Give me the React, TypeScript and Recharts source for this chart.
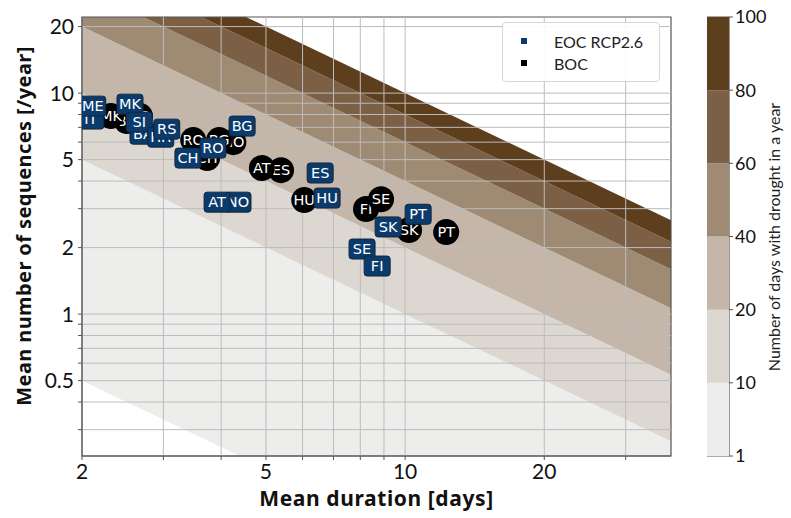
import {
  ComposedChart,
  Area,
  Scatter,
  XAxis,
  YAxis,
  ReferenceArea,
  ReferenceLine,
  BarChart,
  Bar,
} from "recharts";

// axis extents (log-log)
const X_DOMAIN = [2, 37.6];
const Y_DOMAIN = [0.228, 22.1];

// drought days per year: contour levels and their colours
const LEVELS = [1, 10, 20, 40, 60, 80, 100];
const BAND_COLORS = ["#ededec", "#ddd7d1", "#c4b6a8", "#9f8a74", "#7b6045", "#5d3e1d"];

// beginning of century (black circles)
const BOC_LABELS = ["BA", "MK", "HR", "NO", "BG", "RO", "CH", "ES", "AT", "HU", "FI", "SE", "SK", "PT"];
const BOC_DURATION = [2.5, 2.31, 2.67, 4.25, 3.96, 3.48, 3.73, 5.39, 4.9, 6.05, 8.23, 8.87, 10.2, 12.27];
const BOC_FREQ = [7.47, 7.87, 7.87, 6.0, 6.13, 6.13, 5.08, 4.48, 4.58, 3.28, 2.99, 3.31, 2.4, 2.35];

// end of century RCP2.6 (blue boxes)
const EOC_LABELS = ["IT", "ME", "MK", "BA", "SI", "HR", "RS", "BG", "CH", "RO", "NO", "AT", "ES", "HU", "SE", "FI", "SK", "PT"];
const EOC_DURATION = [2.09, 2.11, 2.54, 2.71, 2.66, 2.96, 3.05, 4.44, 3.39, 3.84, 4.35, 3.92, 6.55, 6.78, 8.07, 8.7, 9.19, 10.67];
const EOC_FREQ = [7.63, 8.73, 8.91, 6.52, 7.39, 6.32, 6.87, 7.09, 5.08, 5.64, 3.21, 3.21, 4.35, 3.35, 1.97, 1.65, 2.48, 2.83];

const X_TICKS = [2, 3, 4, 5, 6, 7, 8, 9, 10, 20, 30];
const X_LABELS = [2, 5, 10, 20];
const Y_TICKS = [0.3, 0.4, 0.5, 0.6, 0.7, 0.8, 0.9, 1, 2, 3, 4, 5, 6, 7, 8, 9, 10, 20];
const Y_LABELS = [0.5, 1, 2, 5, 10, 20];

const BLUE = "#0b3b6d";
const FONT = "Lato, 'DejaVu Sans', sans-serif";
const TITLE_FONT = "'Noto Sans', 'DejaVu Sans', sans-serif";
const MARK_FONT = "'DejaVu Sans', sans-serif";

// contour bands: duration * frequency = level, straight lines in log-log
const bandRows = X_DOMAIN.map((x) => {
  const row: Record<string, any> = { x };
  BAND_COLORS.forEach((_, i) => {
    row[`b${i}`] = [LEVELS[i] / x, LEVELS[i + 1] / x];
  });
  return row;
});

const bocData = BOC_LABELS.map((label, i) => ({ x: BOC_DURATION[i], y: BOC_FREQ[i], label }));
const eocData = EOC_LABELS.map((label, i) => ({ x: EOC_DURATION[i], y: EOC_FREQ[i], label }));

const colorbarRow: Record<string, any> = { name: "cb" };
BAND_COLORS.forEach((_, i) => {
  colorbarRow[`c${i}`] = 1;
});

function fmtTick(list: number[]) {
  return (v: number) => (list.includes(v) ? String(v) : "");
}

function BocMark(props: any) {
  const { cx, cy, payload } = props;
  return (
    <g>
      <circle cx={cx} cy={cy} r={13} fill="#000" />
      <text x={cx} y={cy} dy={5} textAnchor="middle" fill="#fff" fontSize={14.5} fontFamily={MARK_FONT}>
        {payload.label}
      </text>
    </g>
  );
}

function EocMark(props: any) {
  const { cx, cy, payload } = props;
  return (
    <g>
      <rect x={cx - 13} y={cy - 10} width={26} height={20} rx={3} fill={BLUE} stroke="#13263b" strokeWidth={1} />
      <text x={cx} y={cy} dy={5} textAnchor="middle" fill="#fff" fontSize={14.5} fontFamily={MARK_FONT}>
        {payload.label}
      </text>
    </g>
  );
}

const LEGEND_ITEMS = [
  { name: "EOC RCP2.6", color: BLUE },
  { name: "BOC", color: "#000" },
];

export default function App() {
  return (
    <div style={{ position: "absolute", left: 0, top: 0, width: 791, height: 518, background: "#fff" }}>
      <ComposedChart
        width={791}
        height={518}
        data={bandRows}
        margin={{ top: 17, right: 120, bottom: 0, left: 0 }}
      >
        {BAND_COLORS.map((c, i) => (
          <Area
            key={i}
            type="linear"
            dataKey={`b${i}`}
            fill={c}
            fillOpacity={1}
            stroke="none"
            isAnimationActive={false}
            dot={false}
            activeDot={false}
          />
        ))}
        {X_TICKS.map((v) => (
          <ReferenceLine key={`gx${v}`} x={v} stroke="#bcbcbc" strokeWidth={1} />
        ))}
        {Y_TICKS.map((v) => (
          <ReferenceLine key={`gy${v}`} y={v} stroke="#bcbcbc" strokeWidth={1} />
        ))}
        <XAxis
          dataKey="x"
          type="number"
          scale="log"
          domain={X_DOMAIN}
          allowDataOverflow
          ticks={X_TICKS}
          tickFormatter={fmtTick(X_LABELS)}
          interval={0}
          height={62}
          tickSize={4}
          tickMargin={4}
          stroke="#555"
          tick={{ fill: "#111", fontSize: 21, fontFamily: FONT }}
          label={{
            value: "Mean duration [days]",
            position: "insideBottom",
            offset: 12,
            style: { fill: "#111", fontSize: 21, fontWeight: 700, fontFamily: TITLE_FONT, letterSpacing: 0.6 },
          }}
        />
        <YAxis
          type="number"
          scale="log"
          domain={Y_DOMAIN}
          allowDataOverflow
          ticks={Y_TICKS}
          tickFormatter={fmtTick(Y_LABELS)}
          interval={0}
          width={82}
          tickSize={4}
          tickMargin={4}
          stroke="#555"
          tick={{ fill: "#111", fontSize: 21, fontFamily: FONT }}
          label={{
            content: () => (
              <text
                x={31}
                y={226}
                transform="rotate(-90 31 226)"
                textAnchor="middle"
                fill="#111"
                fontSize={20}
                fontWeight={700}
                fontFamily={TITLE_FONT}
                letterSpacing={0.4}
              >
                Mean number of sequences [/year]
              </text>
            ),
          }}
        />
        <ReferenceArea
          x1={X_DOMAIN[0]}
          x2={X_DOMAIN[1]}
          y1={Y_DOMAIN[0]}
          y2={Y_DOMAIN[1]}
          fill="none"
          stroke="#555"
          strokeWidth={1.2}
        />
        <Scatter data={bocData} dataKey="y" name="BOC" shape={BocMark} isAnimationActive={false} />
        <Scatter data={eocData} dataKey="y" name="EOC RCP2.6" shape={EocMark} isAnimationActive={false} />
      </ComposedChart>

      <div
        style={{
          position: "absolute",
          left: 502,
          top: 22,
          width: 158,
          boxSizing: "border-box",
          background: "rgba(255,255,255,0.9)",
          border: "1px solid #d6d6d6",
          borderRadius: 4,
          padding: "7px 0",
          fontFamily: FONT,
          fontSize: 16,
          color: "#222",
        }}
      >
        {LEGEND_ITEMS.map((it) => (
          <div key={it.name} style={{ display: "flex", alignItems: "center", height: 22 }}>
            <span style={{ width: 6, height: 6, background: it.color, marginLeft: 18, marginRight: 27 }} />
            <span>{it.name}</span>
          </div>
        ))}
      </div>

      <div style={{ position: "absolute", left: 707, top: 0 }}>
        <BarChart
          width={84}
          height={473}
          data={[colorbarRow]}
          margin={{ top: 17, right: 0, bottom: 17, left: 0 }}
          barCategoryGap={0}
        >
          <XAxis dataKey="name" hide />
          {BAND_COLORS.map((c, i) => (
            <Bar key={i} dataKey={`c${i}`} stackId="cb" fill={c} isAnimationActive={false} />
          ))}
          <YAxis
            orientation="right"
            type="number"
            domain={[0, 6]}
            ticks={[0, 1, 2, 3, 4, 5, 6]}
            tickFormatter={(v: number) => String(LEVELS[v])}
            interval={0}
            width={62}
            tickSize={4}
            tickMargin={2}
            stroke="#555"
            axisLine={false}
            tick={{ fill: "#111", fontSize: 18, fontFamily: FONT }}
            label={{
              content: () => (
                <text
                  x={73}
                  y={237}
                  transform="rotate(-90 73 237)"
                  textAnchor="middle"
                  fill="#222"
                  fontSize={16}
                  fontFamily={FONT}
                >
                  Number of days with drought in a year
                </text>
              ),
            }}
          />
          <ReferenceArea y1={0} y2={6} fill="none" stroke="#555" strokeWidth={1.2} />
        </BarChart>
      </div>
    </div>
  );
}
